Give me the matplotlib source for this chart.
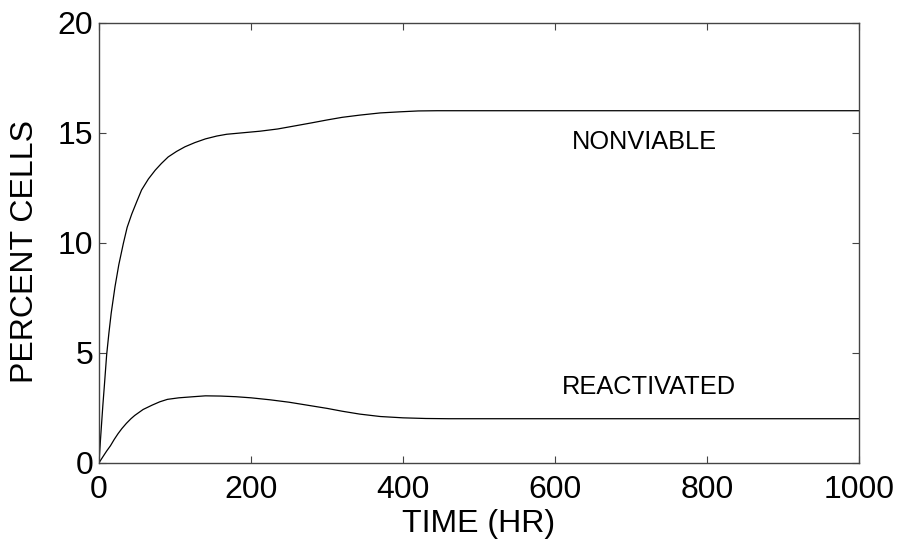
import matplotlib
matplotlib.use('Agg')
from matplotlib import pyplot as plt

plt.rcParams['font.family'] = ['Liberation Sans', 'DejaVu Sans']

# values
nonviable_t = [0, 1, 2, 3, 5, 7, 10, 13, 16, 21, 26, 32, 37, 43, 50, 56, 65,
               74, 82, 91, 102, 113, 126, 140, 155, 168, 190, 212, 235, 256,
               280, 300, 320, 343, 370, 396, 420, 445, 500, 600, 800, 1000]
nonviable_pct = [0, 0.55, 1.1, 1.6, 2.6, 3.5, 4.9, 5.9, 6.8, 8.0, 9.0, 9.97,
                 10.7, 11.3, 11.9, 12.4, 12.9, 13.3, 13.6, 13.9, 14.15, 14.36,
                 14.55, 14.72, 14.85, 14.93, 15.0, 15.07, 15.17, 15.3, 15.45,
                 15.58, 15.7, 15.8, 15.9, 15.95, 15.99, 16.0, 16.0, 16.0, 16.0,
                 16.0]

reactivated_t = [0, 3, 6, 10, 15, 20, 25, 30, 36, 42, 47, 58, 70, 80, 90, 105,
                 124, 140, 160, 180, 200, 225, 250, 275, 300, 320, 343, 370,
                 400, 430, 460, 500, 600, 800, 1000]
reactivated_pct = [0, 0.16, 0.32, 0.53, 0.77, 1.06, 1.32, 1.55, 1.79, 2.0, 2.15,
                   2.42, 2.62, 2.77, 2.88, 2.95, 3.0, 3.04, 3.03, 3.0, 2.95,
                   2.86, 2.75, 2.61, 2.47, 2.34, 2.21, 2.1, 2.04, 2.01, 2.0,
                   2.0, 2.0, 2.0, 2.0]

x_ticks = [0, 200, 400, 600, 800, 1000]
y_ticks = [0, 5, 10, 15, 20]

fig = plt.figure(figsize=(9.02, 5.41), dpi=100)
ax = fig.add_axes([0.1098, 0.1447, 0.8426, 0.8133])

ax.plot(nonviable_t, nonviable_pct, color='black', lw=0.9)
ax.plot(reactivated_t, reactivated_pct, color='black', lw=0.9)

ax.text(622, 14.6, 'NONVIABLE', fontsize=18.3, va='center', ha='left')
ax.text(609, 3.45, 'REACTIVATED', fontsize=18.3, va='center', ha='left')

ax.set_xlim(0, 1000)
ax.set_ylim(0, 20)
ax.set_xticks(x_ticks)
ax.set_yticks(y_ticks)
ax.tick_params(direction='in', length=5, width=0.8, color='#444444',
               top=True, right=True, labelsize=23)
ax.tick_params(axis='x', pad=9)
ax.tick_params(axis='y', pad=4)
for s in ax.spines.values():
    s.set_color('#444444')
    s.set_linewidth(1.0)

ax.set_xlabel('TIME (HR)', fontsize=23, labelpad=3)
ax.set_ylabel('PERCENT CELLS', fontsize=23)
ax.yaxis.set_label_coords(-0.078, 0.48)

fig.savefig('out.png', dpi=100)
